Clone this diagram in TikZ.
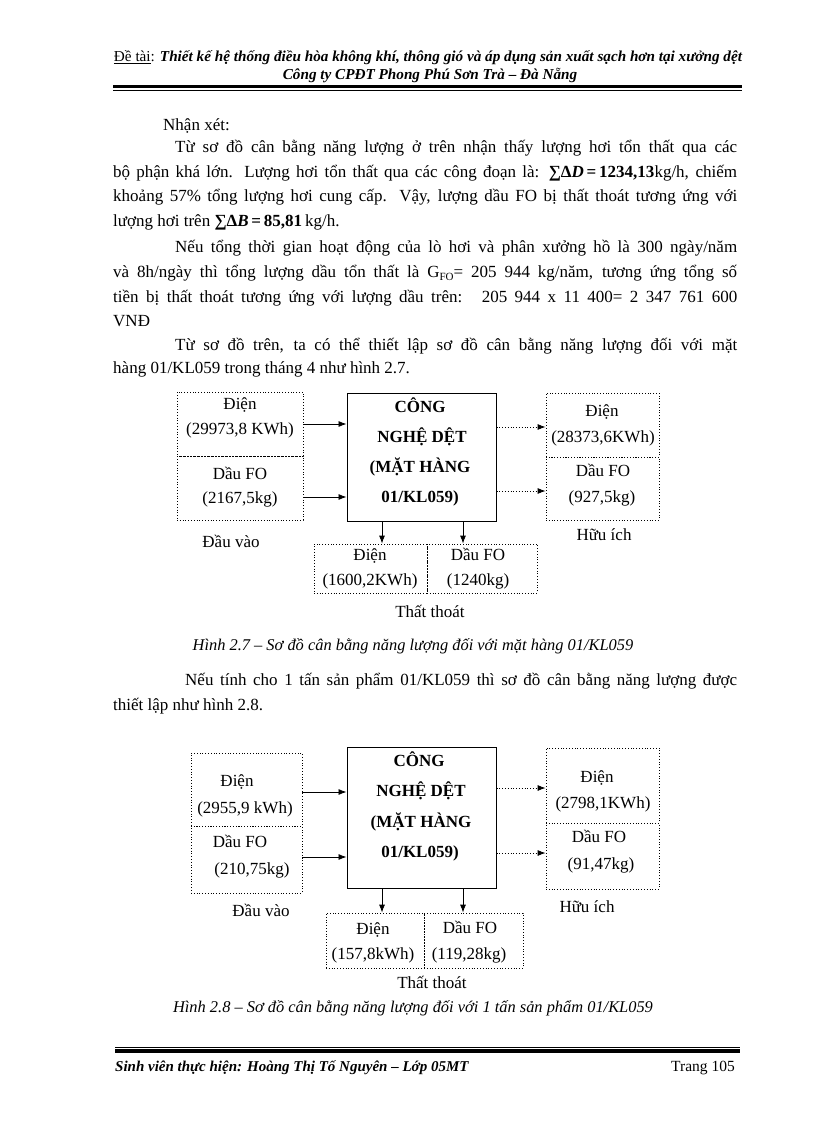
\documentclass[tikz,border=0pt]{standalone}
\usepackage{fontspec}
\setmainfont{Liberation Serif}
\usetikzlibrary{arrows.meta}
\begin{document}
\begin{tikzpicture}[x=1pt,y=-1pt,
  body/.style={anchor=base west, inner sep=0pt, font=\fontsize{17}{24}\selectfont},
  lbl/.style={anchor=base, inner sep=0pt, font=\fontsize{17}{24}\selectfont},
  blbl/.style={anchor=base, inner sep=0pt, font=\fontsize{17}{24}\selectfont\bfseries},
  figcap/.style={anchor=base, inner sep=0pt, font=\fontsize{16.4}{20}\selectfont\itshape},
  dbox/.style={draw, dotted, line width=0.8pt, inner sep=0pt},
  mbox/.style={draw, line width=1pt, inner sep=0pt},
  arr/.style={-{Latex[length=8pt,width=6pt]}, line width=0.8pt},
  darr/.style={arr, dotted}]
\useasboundingbox[fill=white] (0,0) rectangle (816,1123);

% ---------- header ----------
\node[anchor=base, inner sep=0pt, font=\fontsize{15.2}{18}\selectfont] (h1) at (428,62)
  {\underline{Đề tài}: {\bfseries\itshape Thiết kế hệ thống điều hòa không khí, thông gió và áp dụng sản xuất sạch hơn tại xưởng dệt}};
\node[anchor=base, inner sep=0pt, font=\fontsize{15.2}{18}\selectfont\bfseries\itshape] (h2) at (430,80)
  {Công ty CPĐT Phong Phú Sơn Trà – Đà Nẵng};
\coordinate (hr1a) at (113,86.5); \coordinate (hr1b) at (742,86.5);
\coordinate (hr2a) at (113,90.2); \coordinate (hr2b) at (742,90.2);
\draw[line width=3pt] (hr1a) -- (hr1b);
\draw[line width=0.8pt] (hr2a) -- (hr2b);

% ---------- body text ----------
\node[body] (t0) at (163,131) {Nhận xét:};
\node[body] (t1) at (175,153) {\hbox to 562pt{Từ sơ đồ cân bằng năng lượng ở trên nhận thấy lượng hơi tổn thất qua các}};
\node[body] (t2) at (113,178) {\hbox to 624pt{bộ phận khá lớn. Lượng hơi tổn thất qua các công đoạn là: {\bfseries ∑Δ\textit{D}\,=\,1234,13}kg/h, chiếm}};
\node[body] (t3) at (113,202) {\hbox to 624pt{khoảng 57\% tổng lượng hơi cung cấp. Vậy, lượng dầu FO bị thất thoát tương ứng với}};
\node[body] (t4) at (113,227) {lượng hơi trên {\bfseries ∑Δ\textit{B}\,=\,85,81}\,kg/h.};

\node[body] (t5) at (175,252) {\hbox to 562pt{Nếu tổng thời gian hoạt động của lò hơi và phân xưởng hồ là 300 ngày/năm}};
\node[body] (t6) at (113,277) {\hbox to 624pt{và 8h/ngày thì tổng lượng dầu tổn thất là G\raisebox{-3pt}{\fontsize{11}{11}\selectfont FO}= 205 944 kg/năm, tương ứng tổng số}};
\node[body] (t7) at (113,302) {\hbox to 624pt{tiền bị thất thoát tương ứng với lượng dầu trên: \ 205 944 x 11 400= 2 347 761 600}};
\node[body] (t8) at (113,326) {VNĐ};
\node[body] (t9) at (175,350) {\hbox to 562pt{Từ sơ đồ trên, ta có thể thiết lập sơ đồ cân bằng năng lượng đối với mặt}};
\node[body] (t10) at (113,373) {hàng 01/KL059 trong tháng 4 như hình 2.7.};

% ---------- diagram 1 ----------
\node[dbox, minimum width=126, minimum height=64] (aL1) at (240,424) {};
\node[dbox, minimum width=126, minimum height=64] (aL2) at (240,488) {};
\node[mbox, minimum width=149, minimum height=128] (aC) at (421.5,457) {};
\node[dbox, minimum width=113, minimum height=64] (aR1) at (602.5,425) {};
\node[dbox, minimum width=113, minimum height=63] (aR2) at (602.5,488.5) {};
\node[dbox, minimum width=113, minimum height=49] (aB1) at (370.5,568.5) {};
\node[dbox, minimum width=110, minimum height=49] (aB2) at (482,568.5) {};

\node[lbl] (a1) at (240,409) {Điện};
\node[lbl] (a2) at (240,434) {(29973,8 KWh)};
\node[lbl] (a3) at (240,479) {Dầu FO};
\node[lbl] (a4) at (240,503) {(2167,5kg)};
\node[lbl] (a5) at (231,547) {Đầu vào};
\node[blbl] (a6) at (420,412.5) {CÔNG};
\node[blbl] (a7) at (422,442.5) {NGHỆ DỆT};
\node[blbl] (a8) at (420,472.5) {(MẶT HÀNG};
\node[blbl] (a9) at (420,502.5) {01/KL059)};
\node[lbl] (a10) at (602,416) {Điện};
\node[lbl] (a11) at (603,442) {(28373,6KWh)};
\node[lbl] (a12) at (603,476) {Dầu FO};
\node[lbl] (a13) at (602,502) {(927,5kg)};
\node[lbl] (a14) at (604,540) {Hữu ích};
\node[lbl] (a15) at (370,560) {Điện};
\node[lbl] (a16) at (370,585) {(1600,2KWh)};
\node[lbl] (a17) at (478,560) {Dầu FO};
\node[lbl] (a18) at (478,585) {(1240kg)};
\node[lbl] (a19) at (430,617) {Thất thoát};
\node[figcap] (a20) at (413,650) {Hình 2.7 – Sơ đồ cân bằng năng lượng đối với mặt hàng 01/KL059};

\coordinate (ain2) at ([yshift=-9pt]aL2.east);
\draw[arr] (aL1.east) -- (aL1.east -| aC.west);
\draw[arr] (ain2) -- (ain2 -| aC.west);
\coordinate (aout1) at ([yshift=-2pt]aR1.west);
\coordinate (aout2) at ([yshift=-2.5pt]aR2.west);
\draw[darr] (aout1 -| aC.east) -- (aout1);
\draw[darr] (aout2 -| aC.east) -- (aout2);
\coordinate (ad1) at ([xshift=-39.5pt]aC.south);
\coordinate (ad2) at ([xshift=41.5pt]aC.south);
\draw[arr] (ad1) -- (ad1 |- aB1.north);
\draw[arr] (ad2) -- (ad2 |- aB2.north);

% ---------- text between ----------
\node[body] (t11) at (185,685) {\hbox to 552pt{Nếu tính cho 1 tấn sản phẩm 01/KL059 thì sơ đồ cân bằng năng lượng được}};
\node[body] (t12) at (113,710) {thiết lập như hình 2.8.};

% ---------- diagram 2 ----------
\node[dbox, minimum width=111, minimum height=73] (bL1) at (246.5,789.5) {};
\node[dbox, minimum width=111, minimum height=67] (bL2) at (246.5,859.5) {};
\node[mbox, minimum width=149, minimum height=141] (bC) at (421.5,817.5) {};
\node[dbox, minimum width=113, minimum height=75] (bR1) at (602.5,785.5) {};
\node[dbox, minimum width=113, minimum height=66] (bR2) at (602.5,856) {};
\node[dbox, minimum width=98, minimum height=55] (bB1) at (375,940.5) {};
\node[dbox, minimum width=99, minimum height=55] (bB2) at (473.5,940.5) {};

\node[lbl] (b1) at (237,786) {Điện};
\node[lbl] (b2) at (245,813) {(2955,9 kWh)};
\node[lbl] (b3) at (240,847) {Dầu FO};
\node[lbl] (b4) at (252,874) {(210,75kg)};
\node[lbl] (b5) at (261,916) {Đầu vào};
\node[blbl] (b6) at (419,766.5) {CÔNG};
\node[blbl] (b7) at (421,796.5) {NGHỆ DỆT};
\node[blbl] (b8) at (421,827.5) {(MẶT HÀNG};
\node[blbl] (b9) at (420,857.5) {01/KL059)};
\node[lbl] (b10) at (597,782) {Điện};
\node[lbl] (b11) at (603,808) {(2798,1KWh)};
\node[lbl] (b12) at (599,842) {Dầu FO};
\node[lbl] (b13) at (601,869) {(91,47kg)};
\node[lbl] (b14) at (587,912) {Hữu ích};
\node[lbl] (b15) at (373,934) {Điện};
\node[lbl] (b16) at (373,959) {(157,8kWh)};
\node[lbl] (b17) at (470,933) {Dầu FO};
\node[lbl] (b18) at (469,959) {(119,28kg)};
\node[lbl] (b19) at (432,988) {Thất thoát};
\node[figcap] (b20) at (413,1012) {Hình 2.8 – Sơ đồ cân bằng năng lượng đối với 1 tấn sản phẩm 01/KL059};

\coordinate (bin1) at ([yshift=-2.5pt]bL1.east);
\coordinate (bin2) at ([yshift=2.5pt]bL2.east);
\draw[arr] (bin1) -- (bin1 -| bC.west);
\draw[arr] (bin2) -- (bin2 -| bC.west);
\coordinate (bout1) at ([yshift=-2.5pt]bR1.west);
\coordinate (bout2) at ([yshift=3pt]bR2.west);
\draw[darr] (bout1 -| bC.east) -- (bout1);
\draw[darr] (bout2 -| bC.east) -- (bout2);
\coordinate (bd1) at ([xshift=-39.5pt]bC.south);
\coordinate (bd2) at ([xshift=41.5pt]bC.south);
\draw[arr] (bd1) -- (bd1 |- bB1.north);
\draw[arr] (bd2) -- (bd2 |- bB2.north);

% ---------- footer ----------
\coordinate (fr1a) at (115,1047); \coordinate (fr1b) at (740,1047);
\coordinate (fr2a) at (115,1051); \coordinate (fr2b) at (740,1051);
\draw[line width=0.8pt] (fr1a) -- (fr1b);
\draw[line width=3.2pt] (fr2a) -- (fr2b);
\node[anchor=base west, inner sep=0pt, font=\fontsize{15}{18}\selectfont\bfseries\itshape] (f1) at (115,1071)
  {Sinh viên thực hiện: Hoàng Thị Tố Nguyên – Lớp 05MT};
\node[anchor=base east, inner sep=0pt, font=\fontsize{15.5}{18}\selectfont] (f2) at (735,1071) {Trang 105};
\end{tikzpicture}
\end{document}
